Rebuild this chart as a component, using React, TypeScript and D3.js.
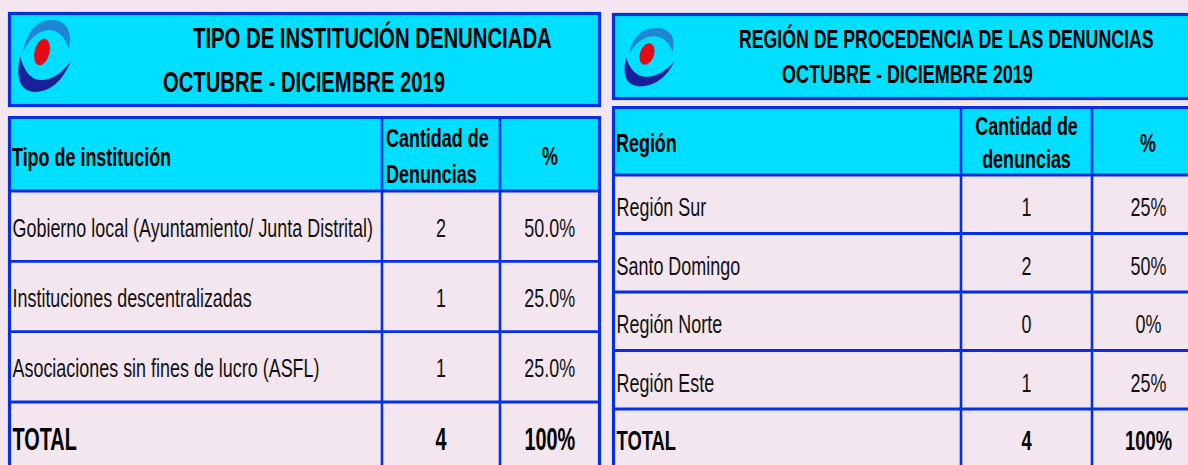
import * as d3 from "d3";
import { useEffect } from "react";

// datos de las dos tablas
const tipoCategorias = [
  "Gobierno local (Ayuntamiento/ Junta Distrital)",
  "Instituciones descentralizadas",
  "Asociaciones sin fines de lucro (ASFL)",
];
const tipoCantidad = [2, 1, 1];
const tipoPorcentaje = ["50.0%", "25.0%", "25.0%"];

const regionCategorias = ["Región Sur", "Santo Domingo", "Región Norte", "Región Este"];
const regionCantidad = [1, 2, 0, 1];
const regionPorcentaje = ["25%", "50%", "0%", "25%"];

const W = 1188;
const H = 465;
const CYAN = "#00dfff";
const BLUE = "#0430e4";
const PINK = "#f4e6ee";
const FONT = "'Liberation Sans', Arial, Helvetica, sans-serif";

function T({ x, y, size, bold = false, anchor = "start", sx = 0.69, color = "#000", children }: any) {
  return (
    <text
      transform={`translate(${x},${y}) scale(${sx},1)`}
      textAnchor={anchor}
      fontSize={size}
      fontWeight={bold ? 700 : 400}
      fontFamily={FONT}
      fill={color}
    >
      {children}
    </text>
  );
}

function Logo({ x, y, sx, sy }: any) {
  return (
    <g transform={`translate(${x},${y}) scale(${sx},${sy})`}>
      <path
        d="M -19,0 Q -13,-34 13,-32 Q 32,-28 27,-3 Q 21,-21 8,-22 Q -8,-22 -19,0 Z"
        fill="#1e86d4"
      />
      <path
        d="M 29,9 Q 16,40 -8,40 Q -29,38 -22,4 Q -16,27 -2,28 Q 14,29 29,9 Z"
        fill="#1b1f9a"
      />
      <ellipse rx={7.5} ry={13.5} transform="rotate(14)" fill="#e30b17" />
    </g>
  );
}

function Tabla({ x0, cols, titleTop, titleBottom, top, headerBottom, bandEnd, rows, cantidad, pct, header, title, baseOff, total }: any) {
  const bands = [...rows, "TOTAL"];
  const y = d3.scaleBand<string>().domain(bands).range([headerBottom, bandEnd]).paddingInner(0);
  const x3 = cols[3];
  const totalCant = d3.sum(cantidad);
  return (
    <g>
      <rect x={x0} y={titleTop} width={x3 - x0} height={titleBottom - titleTop} fill={CYAN} stroke={BLUE} strokeWidth={3.2} />
      <rect x={x0} y={top} width={x3 - x0} height={headerBottom - top} fill={CYAN} />
      {title}
      {/* lineas horizontales */}
      {[top, ...bands.map((b) => y(b)!)].map((yy, i) => (
        <line key={"h" + i} x1={x0 - 1.5} x2={x3 + 1.5} y1={yy} y2={yy} stroke={BLUE} strokeWidth={i === 0 ? 3.2 : 2.8} />
      ))}
      {cols.map((cx: number, i: number) => (
        <line key={"v" + i} x1={cx} x2={cx} y1={top - 1.5} y2={H + 5} stroke={BLUE} strokeWidth={i === 0 || i === 3 ? 3.2 : 2.6} />
      ))}
      {header}
      {rows.map((r: string, i: number) => {
        const yy = y(r)! + y.bandwidth() / 2 + baseOff;
        return (
          <g key={r}>
            <T x={x0 + 3} y={yy} size={26} color="#111">{r}</T>
            <T x={(cols[1] + cols[2]) / 2} y={yy} size={26} anchor="middle" color="#111">{cantidad[i]}</T>
            <T x={(cols[2] + cols[3]) / 2} y={yy} size={26} anchor="middle" color="#111">{pct[i]}</T>
          </g>
        );
      })}
      <T x={x0 + 3} y={450} size={total.size} sx={total.sx} bold>TOTAL</T>
      <T x={(cols[1] + cols[2]) / 2} y={450} size={total.size} sx={total.sx} bold anchor="middle">{totalCant}</T>
      <T x={(cols[2] + cols[3]) / 2} y={450} size={total.size} sx={total.sx} bold anchor="middle">100%</T>
    </g>
  );
}

export default function App() {
  useEffect(() => {
    document.body.style.margin = "0";
    document.body.style.background = PINK;
  }, []);

  const leftCols = [9.5, 382, 500, 599.5];
  const rightCols = [613.5, 961, 1092, 1205];

  return (
    <div style={{ position: "absolute", left: 0, top: 0 }}>
      <svg width={W} height={H} style={{ display: "block" }}>
        <rect width={W} height={H} fill={PINK} />
        <Tabla
          x0={9.5}
          cols={leftCols}
          titleTop={13.5}
          titleBottom={105.5}
          top={117.5}
          headerBottom={191}
          bandEnd={472.3}
          rows={tipoCategorias}
          cantidad={tipoCantidad}
          pct={tipoPorcentaje}
          baseOff={10.5}
          total={{ size: 31, sx: 0.64 }}
          title={
            <g>
              <Logo x={42} y={52} sx={1} sy={1} />
              <T x={193} y={48} size={30} sx={0.677} bold>TIPO DE INSTITUCIÓN DENUNCIADA</T>
              <T x={163} y={92} size={30} sx={0.674} bold>OCTUBRE - DICIEMBRE 2019</T>
            </g>
          }
          header={
            <g>
              <T x={12} y={166} size={26} bold>Tipo de institución</T>
              <T x={386} y={147} size={26} bold>Cantidad de</T>
              <T x={386} y={183} size={26} bold>Denuncias</T>
              <T x={550} y={165} size={26} bold anchor="middle">%</T>
            </g>
          }
        />
        <Tabla
          x0={613.5}
          cols={rightCols}
          titleTop={14.5}
          titleBottom={98.5}
          top={107.5}
          headerBottom={175}
          bandEnd={467.5}
          rows={regionCategorias}
          cantidad={regionCantidad}
          pct={regionPorcentaje}
          baseOff={12}
          total={{ size: 27, sx: 0.68 }}
          title={
            <g>
              <Logo x={647} y={54} sx={0.95} sy={0.81} />
              <T x={739} y={48} size={25.5} sx={0.695} bold>REGIÓN DE PROCEDENCIA DE LAS DENUNCIAS</T>
              <T x={782} y={83} size={26} sx={0.692} bold>OCTUBRE - DICIEMBRE 2019</T>
            </g>
          }
          header={
            <g>
              <T x={616} y={152} size={26} bold>Región</T>
              <T x={1026.5} y={135} size={26} bold anchor="middle">Cantidad de</T>
              <T x={1026.5} y={168} size={26} bold anchor="middle">denuncias</T>
              <T x={1148} y={152} size={26} bold anchor="middle">%</T>
            </g>
          }
        />
      </svg>
    </div>
  );
}
